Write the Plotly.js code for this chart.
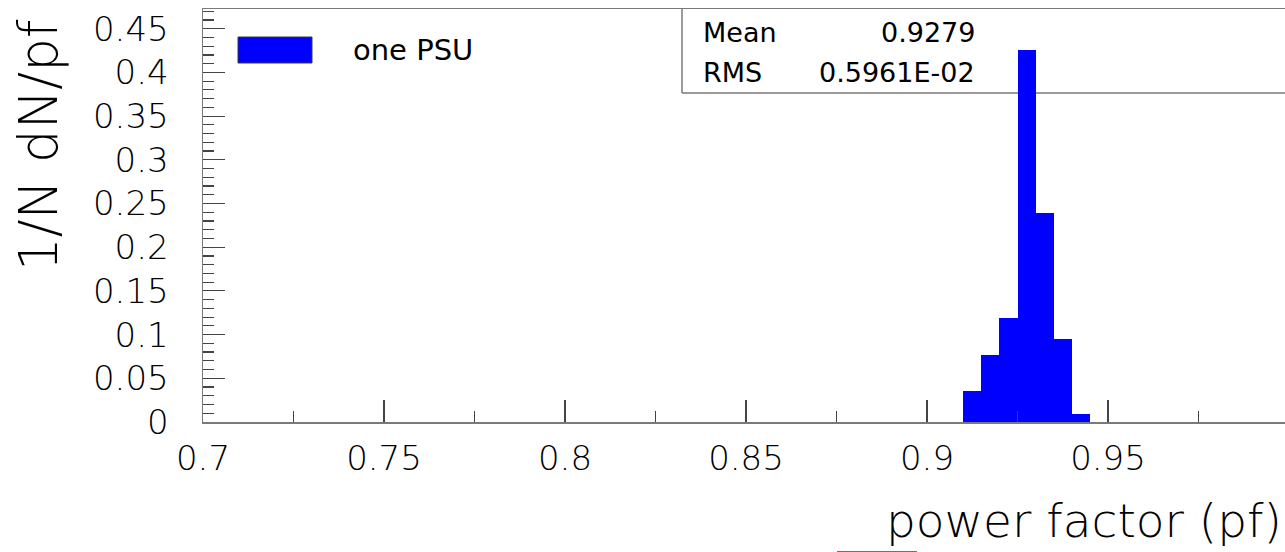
<!DOCTYPE html>
<html>
<head>
<meta charset="utf-8">
<script src="https://cdn.plot.ly/plotly-3.0.1.min.js"></script>
<style>
  html, body { margin: 0; padding: 0; background: #ffffff; }
  #chart { width: 1285px; height: 552px; }
</style>
</head>
<body>
<div id="chart"></div>
<script>
// Power factor distribution of a single PSU, normalised to unit area per bin set.
const binCenters = [0.9125, 0.9175, 0.9225, 0.9275, 0.9325, 0.9375, 0.9425];
const binFractions = [0.035, 0.077, 0.119, 0.426, 0.239, 0.095, 0.009];
const binWidth = 0.005;
const seriesName = 'one PSU';
const statLabels = ['Mean', 'RMS'];
const statValues = ['0.9279', '0.5961E-02'];
const xTitle = 'power factor (pf)';
const yTitle = '1/N dN/pf';

// Page geometry (pixels) used to place decorations in paper coordinates.
const W = 1285, H = 552;
const M = { l: 203, r: 0, t: 9, b: 130 };
const plotW = W - M.l - M.r;
const plotH = H - M.t - M.b;
const px = x => (x - M.l) / plotW;
const py = y => (H - M.b - y) / plotH;

const FONT = 'DejaVu Sans';
const LIGHT = 200;
const axisGrey = '#7a7a7a';

const trace = {
  type: 'bar',
  x: binCenters,
  y: binFractions,
  width: binCenters.map(() => binWidth),
  name: seriesName,
  marker: { color: '#0000ff', line: { width: 0 } },
  hoverinfo: 'x+y'
};

const annotations = [
  {
    text: yTitle, textangle: -90, showarrow: false,
    xref: 'paper', yref: 'paper', x: px(38), y: py(145),
    xanchor: 'center', yanchor: 'middle',
    font: { family: FONT, size: 53, weight: LIGHT, color: '#000' }
  },
  {
    text: xTitle, showarrow: false,
    xref: 'paper', yref: 'paper', x: px(1284), y: py(520),
    xanchor: 'right', yanchor: 'middle',
    font: { family: FONT, size: 47, weight: LIGHT, color: '#000' }
  },
  {
    text: seriesName, showarrow: false,
    xref: 'paper', yref: 'paper', x: px(351), y: py(50),
    xanchor: 'left', yanchor: 'middle',
    font: { family: FONT, size: 29, color: '#000' }
  }
];
statLabels.forEach((lab, i) => {
  const yc = [32, 73][i];
  annotations.push({
    text: lab, showarrow: false,
    xref: 'paper', yref: 'paper', x: px(701), y: py(yc),
    xanchor: 'left', yanchor: 'middle',
    font: { family: FONT, size: 27, color: '#000' }
  });
  annotations.push({
    text: statValues[i], showarrow: false,
    xref: 'paper', yref: 'paper', x: px(977), y: py(yc),
    xanchor: 'right', yanchor: 'middle',
    font: { family: FONT, size: 27, color: '#000' }
  });
});

const shapes = [
  // legend swatch
  { type: 'rect', xref: 'paper', yref: 'paper',
    x0: px(238), x1: px(312), y0: py(63), y1: py(37),
    fillcolor: '#0000ff', line: { color: '#3a3a3a', width: 1 } },
  // statistics box (left and bottom edges; top shares the frame)
  { type: 'line', xref: 'paper', yref: 'paper', layer: 'below',
    x0: px(682), x1: px(682), y0: py(9), y1: py(93),
    line: { color: axisGrey, width: 1.5 } },
  { type: 'line', xref: 'paper', yref: 'paper', layer: 'below',
    x0: px(682), x1: 1, y0: py(93), y1: py(93),
    line: { color: axisGrey, width: 1.5 } },
  // thin red stroke at the lower edge
  { type: 'line', xref: 'paper', yref: 'paper',
    x0: px(837), x1: px(917), y0: py(551.5), y1: py(551.5),
    line: { color: 'rgba(230,40,40,0.9)', width: 1 } }
];

const layout = {
  width: W, height: H,
  margin: M,
  paper_bgcolor: '#ffffff',
  plot_bgcolor: '#ffffff',
  showlegend: false,
  bargap: 0,
  font: { family: FONT, color: '#000' },
  xaxis: {
    range: [0.7, 0.7 + plotW / 3620],
    dtick: 0.05, tick0: 0.7,
    ticks: 'inside', ticklen: 22, tickwidth: 1.2, tickcolor: '#444',
    minor: { dtick: 0.025, ticks: 'inside', ticklen: 11, tickwidth: 1.2, tickcolor: '#444' },
    showgrid: false, zeroline: false,
    showline: true, linecolor: axisGrey, linewidth: 1.5, mirror: true,
    tickfont: { family: FONT, size: 34, weight: LIGHT, color: '#000' },
    ticklabelstandoff: 6
  },
  yaxis: {
    range: [0, plotH / 874],
    dtick: 0.05, tick0: 0,
    ticks: 'inside', ticklen: 22, tickwidth: 1.2, tickcolor: '#444',
    minor: { dtick: 0.01, ticks: 'inside', ticklen: 11, tickwidth: 1.2, tickcolor: '#444' },
    showgrid: false, zeroline: false,
    showline: true, linecolor: axisGrey, linewidth: 1.5,
    tickfont: { family: FONT, size: 34, weight: LIGHT, color: '#000' },
    ticklabelstandoff: 26
  },
  annotations: annotations,
  shapes: shapes
};

Plotly.newPlot('chart', [trace], layout, { staticPlot: true, displayModeBar: false });
</script>
</body>
</html>
